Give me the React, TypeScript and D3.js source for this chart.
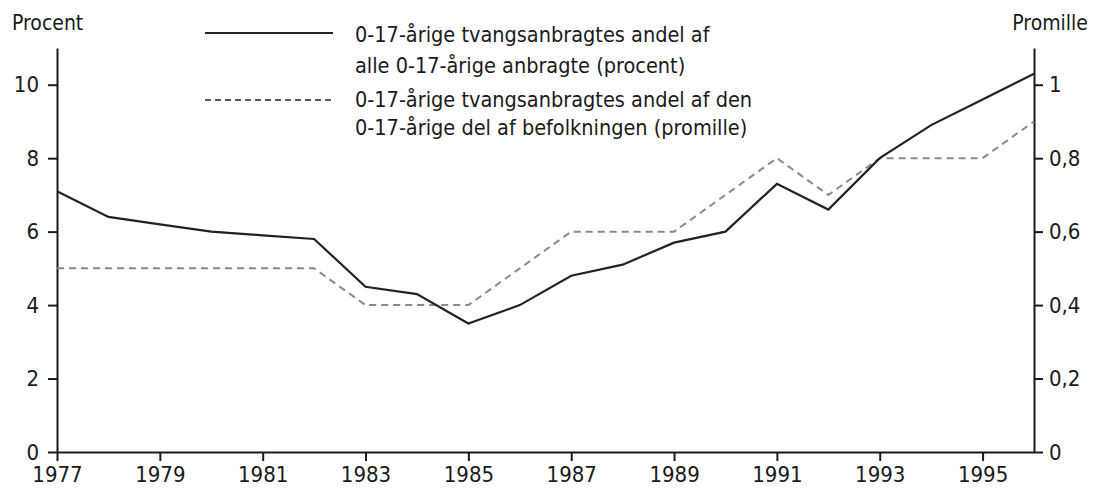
import React, { useEffect, useRef } from "react";
import * as d3 from "d3";

// years on the x axis
const years = [
  1977, 1978, 1979, 1980, 1981, 1982, 1983, 1984, 1985, 1986,
  1987, 1988, 1989, 1990, 1991, 1992, 1993, 1994, 1995, 1996,
];
// tvangsanbragtes andel af alle anbragte (procent, left axis)
const procent = [
  7.1, 6.4, 6.2, 6.0, 5.9, 5.8, 4.5, 4.3, 3.5, 4.0,
  4.8, 5.1, 5.7, 6.0, 7.3, 6.6, 8.0, 8.9, 9.6, 10.3,
];
// tvangsanbragtes andel af befolkningen (promille, right axis)
const promille = [
  0.5, 0.5, 0.5, 0.5, 0.5, 0.5, 0.4, 0.4, 0.4, 0.5,
  0.6, 0.6, 0.6, 0.7, 0.8, 0.7, 0.8, 0.8, 0.8, 0.9,
];
const leftTicks = [0, 2, 4, 6, 8, 10];
const rightTicks = [0, 0.2, 0.4, 0.6, 0.8, 1];
const legendSolid = ["0-17-årige tvangsanbragtes andel af", "alle 0-17-årige anbragte (procent)"];
const legendDashed = ["0-17-årige tvangsanbragtes andel af den", "0-17-årige del af befolkningen (promille)"];

const W = 1094;
const H = 494;
const FONT = "'Liberation Sans Narrow', 'DejaVu Sans Condensed', sans-serif";

export default function App() {
  const ref = useRef<SVGSVGElement>(null);

  useEffect(() => {
    const svg = d3.select(ref.current);
    svg.selectAll("*").remove();

    const left = 57, right = 1034, top = 48, bottom = 452;
    const x = d3.scaleLinear().domain([1977, 1996]).range([left, right]);
    const yL = d3.scaleLinear().domain([0, 11]).range([bottom, top]);
    const yR = d3.scaleLinear().domain([0, 1.1]).range([bottom, top]);
    const ink = "#1a1a1a";

    // left axis
    const gl = svg.append("g").attr("transform", `translate(${left},0)`);
    gl.call(d3.axisLeft(yL).tickValues(d3.range(1, 11, 2)).tickSize(5).tickFormat(() => ""));
    gl.call(d3.axisLeft(yL).tickValues(leftTicks).tickSize(9).tickSizeOuter(0).tickPadding(9)
      .tickFormat(d => d3.format("d")(d as number)));

    // right axis
    const gr = svg.append("g").attr("transform", `translate(${right},0)`);
    gr.call(d3.axisRight(yR).tickValues(d3.range(0.1, 1.1, 0.2)).tickSize(5).tickFormat(() => ""));
    gr.call(d3.axisRight(yR).tickValues(rightTicks).tickSize(9).tickSizeOuter(0).tickPadding(6)
      .tickFormat(d => String(d).replace(".", ",")));

    // bottom axis
    const gb = svg.append("g").attr("transform", `translate(0,${bottom})`);
    gb.call(d3.axisBottom(x).tickValues(years.filter(y => y % 2 === 0)).tickSize(5).tickFormat(() => ""));
    gb.call(d3.axisBottom(x).tickValues(years.filter(y => y % 2 === 1)).tickSize(9).tickSizeOuter(0).tickPadding(5)
      .tickFormat(d => String(d)));

    svg.selectAll(".domain").attr("stroke", ink).attr("stroke-width", 2);
    svg.selectAll(".tick line").attr("stroke", ink).attr("stroke-width", 2);
    svg.selectAll(".tick text").attr("fill", ink).style("font-family", FONT).style("font-size", "22px");

    // lines
    const solid = d3.line<number>().x((_, i) => x(years[i])).y(d => yL(d));
    const dashed = d3.line<number>().x((_, i) => x(years[i])).y(d => yR(d));
    svg.append("path").datum(promille).attr("d", dashed).attr("fill", "none")
      .attr("stroke", "#8a8a8a").attr("stroke-width", 2).attr("stroke-dasharray", "7,5");
    svg.append("path").datum(procent).attr("d", solid).attr("fill", "none")
      .attr("stroke", "#222").attr("stroke-width", 2.2);

    // axis titles
    svg.append("text").attr("x", 12).attr("y", 30).text("Procent")
      .style("font-family", FONT).style("font-size", "21px").attr("fill", ink);
    svg.append("text").attr("x", 1088).attr("y", 30).attr("text-anchor", "end").text("Promille")
      .style("font-family", FONT).style("font-size", "21px").attr("fill", ink);

    // legend
    const lg = svg.append("g");
    lg.append("line").attr("x1", 205).attr("x2", 333).attr("y1", 33).attr("y2", 33)
      .attr("stroke", "#222").attr("stroke-width", 2);
    lg.append("line").attr("x1", 205).attr("x2", 333).attr("y1", 100).attr("y2", 100)
      .attr("stroke", "#222").attr("stroke-width", 1.5).attr("stroke-dasharray", "6,4");
    const lines = [...legendSolid, ...legendDashed];
    const ys = [42, 73, 107, 135];
    lines.forEach((t, i) => {
      lg.append("text").attr("x", 355).attr("y", ys[i]).text(t)
        .style("font-family", FONT).style("font-size", "21.5px").attr("fill", ink);
    });
  }, []);

  return (
    <svg ref={ref} width={W} height={H}
      style={{ position: "absolute", left: 0, top: 0, background: "#fff" }} />
  );
}
